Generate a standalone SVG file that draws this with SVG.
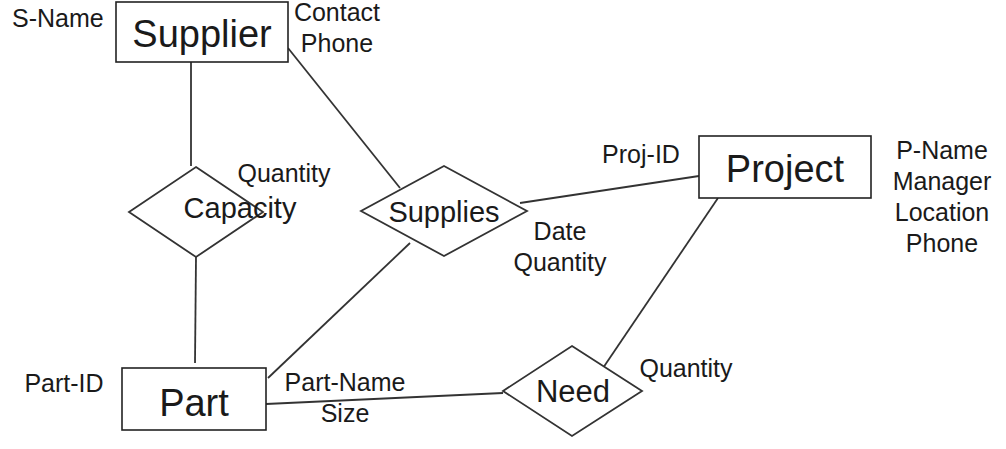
<svg xmlns="http://www.w3.org/2000/svg" width="1006" height="449" viewBox="0 0 1006 449">
<style>
.ent{fill:#fff;stroke:#222;stroke-width:1.6}
.rel{fill:#fff;stroke:#333;stroke-width:1.8}
.ln{stroke:#333;stroke-width:1.8;fill:none}
text{font-family:"Liberation Sans",Arial,sans-serif;fill:#1a1a1a}
.big{font-size:38px}
.mid{font-size:29px}
.att{font-size:25px}
</style>
<rect width="1006" height="449" fill="#fff"/>
<g id="connectors">
<line class="ln" x1="191" y1="62" x2="191" y2="166"/>
<line class="ln" x1="196" y1="257" x2="195" y2="363"/>
<line class="ln" x1="288" y1="48" x2="400" y2="188"/>
<line class="ln" x1="520" y1="203" x2="699" y2="176"/>
<line class="ln" x1="410" y1="243" x2="268" y2="378"/>
<line class="ln" x1="266" y1="404" x2="503" y2="393"/>
<line class="ln" x1="603" y1="368" x2="718" y2="198"/>
</g>
<g id="supplier">
<rect class="ent" x="116" y="2" width="172" height="60"/>
<text class="big" x="202" y="47" text-anchor="middle">Supplier</text>
</g>
<g id="project">
<rect class="ent" x="699" y="136" width="172" height="62"/>
<text class="big" x="785" y="182" text-anchor="middle">Project</text>
</g>
<g id="part">
<rect class="ent" x="122" y="368" width="144" height="62"/>
<text class="big" x="194" y="416" text-anchor="middle">Part</text>
</g>
<g id="capacity">
<polygon class="rel" points="196,167 263,212 196,257 129,212"/>
<text class="mid" x="240" y="218" text-anchor="middle">Capacity</text>
</g>
<g id="supplies">
<polygon class="rel" points="444,166 527,211 444,256 361,211"/>
<text class="mid" x="444" y="222" text-anchor="middle">Supplies</text>
</g>
<g id="need">
<polygon class="rel" points="572,346 642,391 572,436 503,391"/>
<text class="mid" x="573" y="402" text-anchor="middle" style="font-size:31px">Need</text>
</g>
<g id="attributes">
<text class="att" x="12" y="27">S-Name</text>
<text class="att" x="337" y="21" text-anchor="middle">Contact</text>
<text class="att" x="337" y="52" text-anchor="middle">Phone</text>
<text class="att" x="284" y="182" text-anchor="middle">Quantity</text>
<text class="att" x="641" y="163" text-anchor="middle">Proj-ID</text>
<text class="att" x="560" y="240" text-anchor="middle">Date</text>
<text class="att" x="560" y="271" text-anchor="middle">Quantity</text>
<text class="att" x="942" y="159" text-anchor="middle">P-Name</text>
<text class="att" x="942" y="190" text-anchor="middle">Manager</text>
<text class="att" x="942" y="221" text-anchor="middle">Location</text>
<text class="att" x="942" y="252" text-anchor="middle">Phone</text>
<text class="att" x="64" y="392" text-anchor="middle">Part-ID</text>
<text class="att" x="345" y="391" text-anchor="middle">Part-Name</text>
<text class="att" x="345" y="422" text-anchor="middle">Size</text>
<text class="att" x="686" y="377" text-anchor="middle">Quantity</text>
</g>
</svg>
